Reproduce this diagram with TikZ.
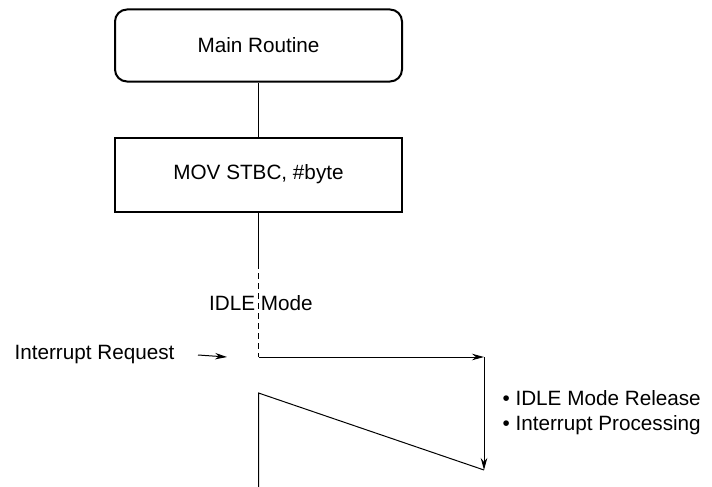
\documentclass[tikz,border=0pt]{standalone}
\usepackage{fontspec}
\setmainfont{Liberation Sans}
\usetikzlibrary{arrows.meta, positioning}

\begin{document}
\begin{tikzpicture}[x=1pt, y=-1pt, font=\fontsize{20.7}{25}\selectfont,
  routine/.style={draw, line width=2pt, rounded corners=12pt, minimum width=287pt, minimum height=72pt, align=center},
  instr/.style={draw, line width=2pt, minimum width=287pt, minimum height=74pt, align=center},
  flow/.style={line width=1pt},
  tip/.style={flow, -{Stealth[length=12pt, width=6.5pt]}}]
\useasboundingbox (0,0) rectangle (712,487);
\node[routine] (main) at (258.5,45.5) {Main Routine};
\node[instr] (mov) at (258.5,174.5) {MOV STBC, \#byte};
\node (idle) at (261,303) {IDLE Mode};
\node[anchor=east] (intreq) at (178,355) {Interrupt Request};
\node[anchor=west, align=left] (release) at (499,413) {• IDLE Mode Release\\• Interrupt Processing};
\coordinate (dashtop) at (258.5,263);
\coordinate (wake) at (258.5,357);
\coordinate (reqtip) at (227,357);
\coordinate (corner) at (484,357);
\coordinate (rampend) at (484,470);
\coordinate (resume) at (258.5,393);
\coordinate (bottom) at (258.5,487);
\draw[flow] (main) -- (mov);
\draw[flow] (mov) -- (dashtop);
\draw[flow, dash pattern=on 6pt off 4pt] (dashtop) -- (wake);
\draw[tip] (wake) -- (corner);
\draw[tip] (corner) -- (rampend);
\draw[flow] (rampend) -- (resume) -- (bottom);
\draw[tip] ([xshift=20pt]intreq.east) -- (reqtip);
\end{tikzpicture}
\end{document}
